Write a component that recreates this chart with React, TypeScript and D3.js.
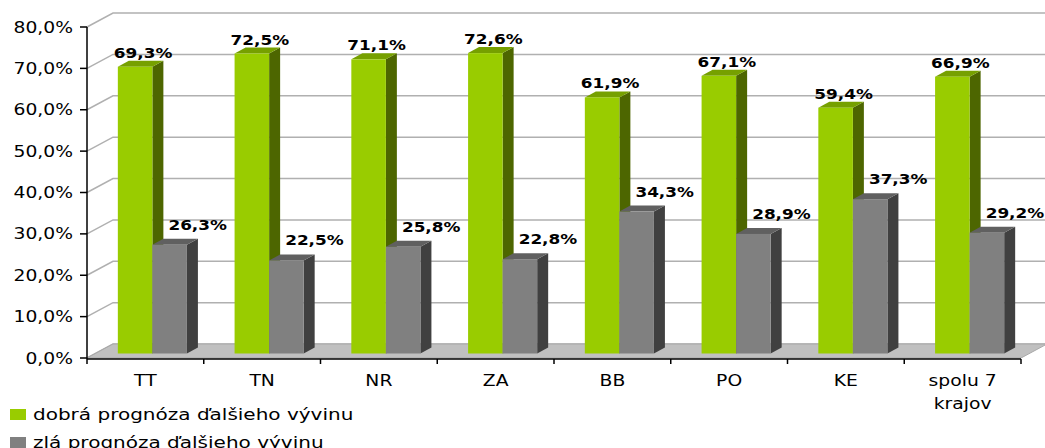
import * as d3 from "d3";

const categories = ["TT", "TN", "NR", "ZA", "BB", "PO", "KE", "spolu 7 krajov"];
const seriesNames = ["dobrá prognóza ďalšieho vývinu", "zlá prognóza ďalšieho vývinu"];
const goodValues = [69.3, 72.5, 71.1, 72.6, 61.9, 67.1, 59.4, 66.9];
const badValues = [26.3, 22.5, 25.8, 22.8, 34.3, 28.9, 37.3, 29.2];
const yTicks = [0, 10, 20, 30, 40, 50, 60, 70, 80];

const width = 1045;
const height = 448;
const left = 87;
const right = 1021;
const zeroY = 358;
const topY = 27;

// 3d offsets: back wall, plane where the bars stand, depth of a bar
const back = { dx: 26, dy: -14 };
const plane = { dx: 7, dy: -4.5 };
const depth = { dx: 11, dy: -6 };

const sx = 1.25; // the picture text is stretched horizontally
const font = "DejaVu Sans, Verdana, sans-serif";

const colors = [
  { front: "#99cc00", side: "#4d6600", top: "#76a000" },
  { front: "#808080", side: "#404040", top: "#606060" },
];

const fmt = (v: number) => d3.format(".1f")(v).replace(".", ",") + "%";

function wrap(c: string): string[] {
  const w = c.split(" ");
  return w.length > 2 ? [w.slice(0, 2).join(" "), w.slice(2).join(" ")] : [c];
}

function SText(props: {
  x: number;
  y: number;
  anchor?: string;
  size: number;
  bold?: boolean;
  children: string;
}) {
  return (
    <text
      transform={`translate(${props.x},${props.y}) scale(${sx},1)`}
      textAnchor={props.anchor || "middle"}
      fontSize={props.size}
      fontWeight={props.bold ? "bold" : "normal"}
      fontFamily={font}
      fill="#000"
    >
      {props.children}
    </text>
  );
}

export default function App() {
  const y = d3.scaleLinear().domain([0, 80]).range([zeroY, topY]);
  const x0 = d3.scaleBand<string>().domain(categories).range([left, right]).paddingInner(0);
  const x1 = d3
    .scaleBand<number>()
    .domain([0, 1])
    .range([0, x0.bandwidth()])
    .paddingOuter(0.69)
    .paddingInner(0);
  const bw = x1.bandwidth();
  const series = [goodValues, badValues];

  const pts = (p: number[][]) => p.map((q) => q.join(",")).join(" ");

  const bars: JSX.Element[] = [];
  const labels: JSX.Element[] = [];
  categories.forEach((c, i) => {
    series.forEach((vals, s) => {
      const v = vals[i];
      const xl = x0(c)! + x1(s)! + plane.dx;
      const xr = xl + bw;
      const yt = y(v) + plane.dy;
      const yb = zeroY + plane.dy;
      const col = colors[s];
      bars.push(
        <g key={`b${i}-${s}`}>
          <polygon
            points={pts([
              [xr, yt],
              [xr + depth.dx, yt + depth.dy],
              [xr + depth.dx, yb + depth.dy],
              [xr, yb],
            ])}
            fill={col.side}
          />
          <polygon
            points={pts([
              [xl, yt],
              [xl + depth.dx, yt + depth.dy],
              [xr + depth.dx, yt + depth.dy],
              [xr, yt],
            ])}
            fill={col.top}
          />
          <rect x={xl} y={yt} width={bw} height={yb - yt} fill={col.front} />
        </g>
      );
      const lx = (xl + xr) / 2 + (s === 0 ? 8 : 28);
      const ly = yt - (s === 0 ? 9 : 15);
      labels.push(
        <SText key={`l${i}-${s}`} x={lx} y={ly} size={13.5} bold>
          {fmt(v)}
        </SText>
      );
    });
  });

  return (
    <svg
      width={width}
      height={height}
      style={{ position: "absolute", left: 0, top: 0, background: "#fff" }}
    >
      {/* back wall gridlines */}
      {yTicks.map((t) => (
        <polyline
          key={`g${t}`}
          points={pts([
            [left, y(t)],
            [left + back.dx, y(t) + back.dy],
            [right + back.dx, y(t) + back.dy],
          ])}
          fill="none"
          stroke="#b0b0b0"
          strokeWidth={1.5}
        />
      ))}
      {/* floor */}
      <polygon
        points={pts([
          [left, zeroY],
          [right, zeroY],
          [right + back.dx, zeroY + back.dy],
          [left + back.dx, zeroY + back.dy],
        ])}
        fill="#c0c0c0"
        stroke="#a8a8a8"
        strokeWidth={1}
      />
      {bars}
      {/* y axis */}
      <line x1={left} x2={left} y1={topY} y2={zeroY + 1} stroke="#000" strokeWidth={1.5} />
      {yTicks.map((t) => (
        <g key={`yt${t}`}>
          <line x1={left - 7} x2={left} y1={y(t)} y2={y(t)} stroke="#000" strokeWidth={1.5} />
          <SText x={left - 14} y={y(t) + 5.5} anchor="end" size={15}>
            {fmt(t)}
          </SText>
        </g>
      ))}
      {/* x axis */}
      <line x1={left} x2={right} y1={zeroY + 1} y2={zeroY + 1} stroke="#000" strokeWidth={1.5} />
      {[...categories.map((c) => x0(c)!), right].map((t, i) => (
        <line key={`xt${i}`} x1={t} x2={t} y1={zeroY + 1} y2={zeroY + 6} stroke="#000" strokeWidth={1.5} />
      ))}
      {categories.map((c) =>
        wrap(c).map((line, k) => (
          <SText key={`xl${c}${k}`} x={x0(c)! + x0.bandwidth() / 2} y={386 + k * 23} size={15}>
            {line}
          </SText>
        ))
      )}
      {labels}
      {/* legend */}
      {seriesNames.map((n, s) => (
        <g key={`lg${s}`}>
          <rect x={10} y={409 + s * 28} width={16} height={11} fill={colors[s].front} />
          <SText x={33} y={420 + s * 28} anchor="start" size={16}>
            {n}
          </SText>
        </g>
      ))}
    </svg>
  );
}
